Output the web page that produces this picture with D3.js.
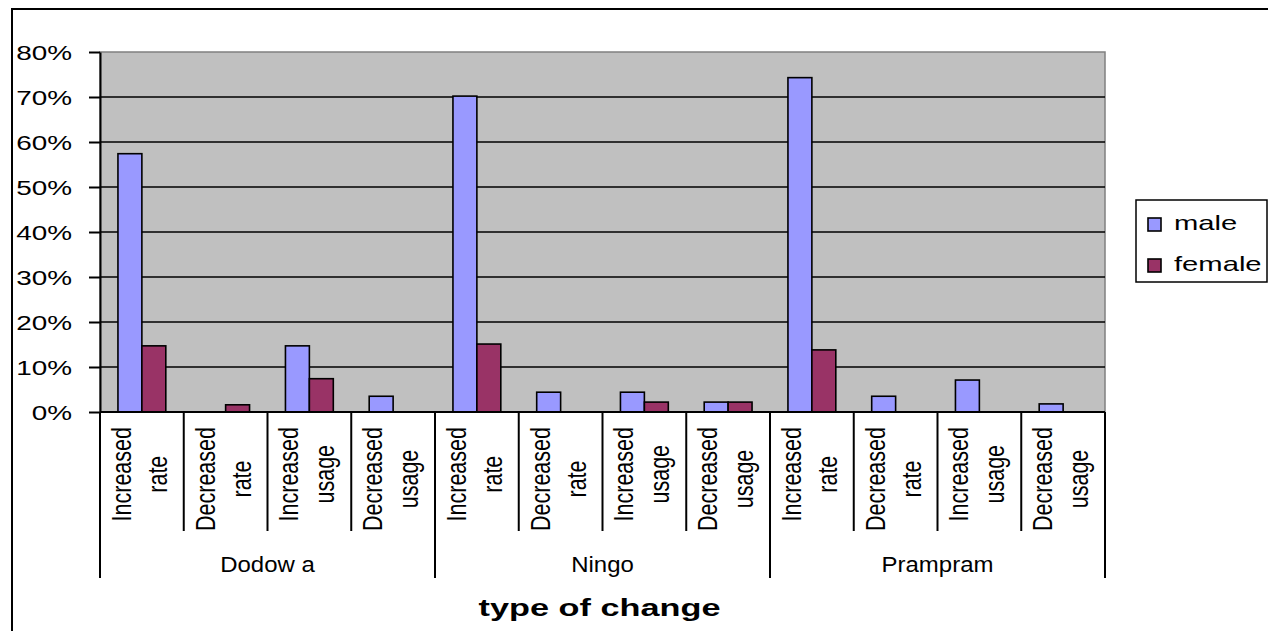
<!DOCTYPE html>
<html>
<head>
<meta charset="utf-8">
<script src="https://cdn.jsdelivr.net/npm/d3@7"></script>
<style>
  html, body { margin: 0; padding: 0; background: #ffffff; }
  svg { display: block; }
  text { font-family: "Liberation Sans", Arial, sans-serif; fill: #000; }
</style>
</head>
<body>
<svg id="chart" width="1268" height="631"></svg>
<script>
// Town groups and the type-of-change categories inside each group
const groups = ["Dodow a", "Ningo", "Prampram"];
const changeTypes = ["Increased rate", "Decreased rate", "Increased usage", "Decreased usage"];
const seriesNames = ["male", "female"];

// Percent of respondents, in the order group x change type
const maleValues   = [57.4, 0, 14.7, 3.5,  70.2, 4.4, 4.4, 2.2,  74.3, 3.5, 7.1, 1.8];
const femaleValues = [14.7, 1.6, 7.4, 0,   15.1, 0, 2.2, 2.2,    13.8, 0, 0, 0];

const yTicks = [0, 10, 20, 30, 40, 50, 60, 70, 80];
const yTickLabels = ["0%", "10%", "20%", "30%", "40%", "50%", "60%", "70%", "80%"];

const colors = { male: "#9999FF", female: "#993366" };

const svg = d3.select("#chart");

const plot = { left: 100, right: 1105, top: 52, bottom: 412 };

// One key per category slot
const slots = [];
groups.forEach((g, gi) => changeTypes.forEach((c, ci) => {
  slots.push({ key: g + "|" + c, group: g, label: c, idx: gi * changeTypes.length + ci });
}));

const x = d3.scaleBand()
  .domain(slots.map(s => s.key))
  .range([plot.left, plot.right])
  .paddingInner(0).paddingOuter(0);

const xSeries = d3.scaleBand()
  .domain(seriesNames)
  .range([0, x.bandwidth()])
  .paddingInner(0)
  .paddingOuter(0.75);

const y = d3.scaleLinear().domain([0, 80]).range([plot.bottom, plot.top]);

// Outer chart frame
svg.append("rect")
  .attr("x", 12).attr("y", 9)
  .attr("width", 1400).attr("height", 800)
  .attr("fill", "none").attr("stroke", "#000").attr("stroke-width", 2);

// Plot area background
svg.append("rect")
  .attr("x", plot.left).attr("y", plot.top)
  .attr("width", plot.right - plot.left).attr("height", plot.bottom - plot.top)
  .attr("fill", "#C0C0C0").attr("stroke", "#808080").attr("stroke-width", 1.5);

// Horizontal gridlines
svg.append("g").selectAll("line")
  .data(yTicks.filter(t => t > 0 && t < 80))
  .join("line")
  .attr("x1", plot.left).attr("x2", plot.right)
  .attr("y1", d => y(d)).attr("y2", d => y(d))
  .attr("stroke", "#000").attr("stroke-width", 1.6);

// Bars
const barData = [];
slots.forEach(s => {
  barData.push({ slot: s, series: "male", value: maleValues[s.idx] });
  barData.push({ slot: s, series: "female", value: femaleValues[s.idx] });
});

svg.append("g").selectAll("rect")
  .data(barData.filter(d => d.value > 0))
  .join("rect")
  .attr("x", d => x(d.slot.key) + xSeries(d.series))
  .attr("y", d => y(d.value))
  .attr("width", xSeries.bandwidth())
  .attr("height", d => y(0) - y(d.value))
  .attr("fill", d => colors[d.series])
  .attr("stroke", "#000").attr("stroke-width", 1.6);

// Y axis
const yAxis = d3.axisLeft(y)
  .tickValues(yTicks)
  .tickSize(11)
  .tickSizeOuter(0)
  .tickFormat((d, i) => yTickLabels[i]);

const yg = svg.append("g")
  .attr("transform", `translate(${plot.left},0)`)
  .call(yAxis);
yg.select(".domain").attr("stroke", "#000").attr("stroke-width", 2);
yg.selectAll(".tick line").attr("stroke", "#000").attr("stroke-width", 2);
yg.selectAll(".tick text")
  .attr("x", 0).attr("dy", null).attr("y", 7.5)
  .attr("text-anchor", "end")
  .attr("font-size", 21)
  .attr("transform", "translate(-28,0) scale(1.33,1)");

// X axis baseline
svg.append("line")
  .attr("x1", plot.left).attr("x2", plot.right)
  .attr("y1", y(0)).attr("y2", y(0))
  .attr("stroke", "#000").attr("stroke-width", 2);

// Category dividers (short) and group dividers (long)
const boundaries = slots.map((s, i) => ({ x: x(s.key), groupEdge: i % changeTypes.length === 0 }));
boundaries.push({ x: x(slots[slots.length - 1].key) + x.bandwidth(), groupEdge: true });

svg.append("g").selectAll("line")
  .data(boundaries)
  .join("line")
  .attr("x1", d => d.x).attr("x2", d => d.x)
  .attr("y1", y(0))
  .attr("y2", d => d.groupEdge ? 578 : 531)
  .attr("stroke", "#000").attr("stroke-width", 2);

// Rotated two-line category labels
const labelSx = 1.25;
const catLabels = svg.append("g");
slots.forEach(s => {
  const cx = x(s.key) + x.bandwidth() / 2;
  const words = s.label.split(" ");
  const g = catLabels.append("g");
  const t1 = g.append("text")
    .attr("font-size", 21.5).attr("text-anchor", "middle")
    .attr("x", 0).attr("y", -11 / labelSx).text(words[0]);
  const t2 = g.append("text")
    .attr("font-size", 21.5).attr("text-anchor", "middle")
    .attr("x", 0).attr("y", 25 / labelSx).text(words[1]);
  const len = Math.max(t1.node().getComputedTextLength(), t2.node().getComputedTextLength());
  const cy = 427 + len / 2;
  g.attr("transform", `translate(${cx},${cy}) scale(${labelSx},1) rotate(-90)`);
});

// Group labels
svg.append("g").selectAll("text")
  .data(groups)
  .join("text")
  .attr("font-size", 22)
  .attr("text-anchor", "middle")
  .attr("transform", (g, gi) => {
    const first = x(g + "|" + changeTypes[0]);
    const last = x(g + "|" + changeTypes[changeTypes.length - 1]) + x.bandwidth();
    return `translate(${(first + last) / 2},572) scale(1.09,1)`;
  })
  .text(d => d);

// Axis title
svg.append("text")
  .attr("font-size", 24.5).attr("font-weight", "bold")
  .attr("text-anchor", "middle")
  .attr("transform", `translate(${(plot.left + plot.right) / 2 - 3},616) scale(1.4,1)`)
  .text("type of change");

// Legend
const legend = svg.append("g");
legend.append("rect")
  .attr("x", 1136).attr("y", 200).attr("width", 131).attr("height", 82)
  .attr("fill", "#fff").attr("stroke", "#000").attr("stroke-width", 1.5);

seriesNames.forEach((name, i) => {
  const rowY = 218 + i * 41;
  legend.append("rect")
    .attr("x", 1148).attr("y", rowY).attr("width", 13).attr("height", 13)
    .attr("fill", colors[name]).attr("stroke", "#000").attr("stroke-width", 1.6);
  legend.append("text")
    .attr("font-size", 20)
    .attr("transform", `translate(1174,${rowY + 11.5}) scale(1.46,1)`)
    .text(name);
});
</script>
</body>
</html>
